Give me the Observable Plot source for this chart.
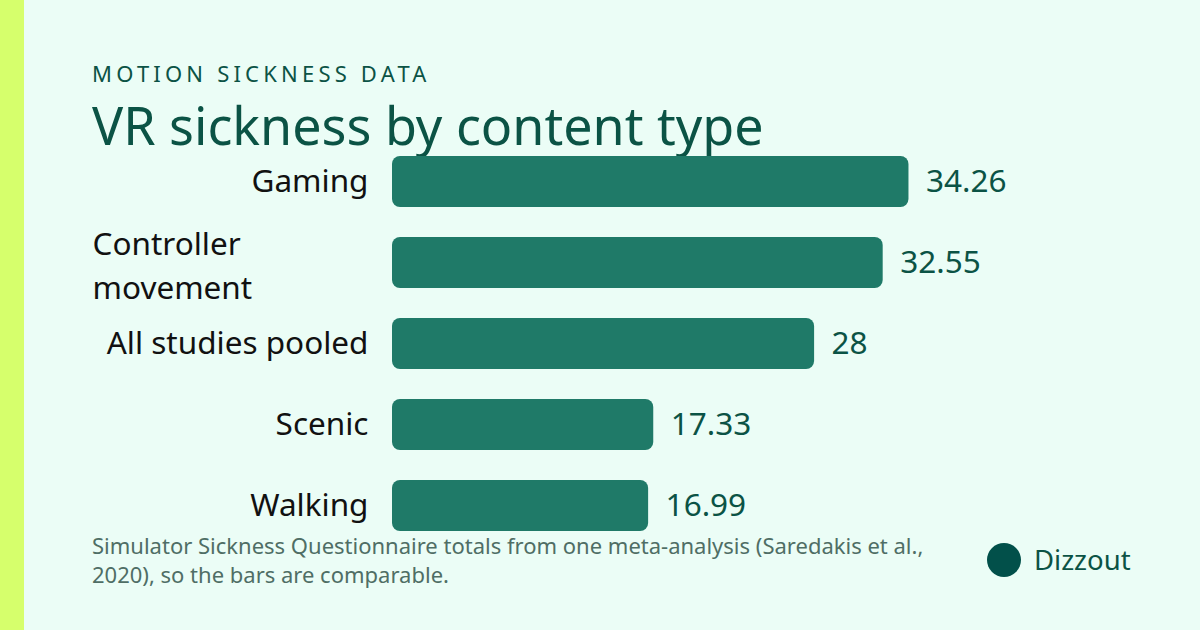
<!DOCTYPE html>
<html>
<head>
<meta charset="utf-8">
<script src="https://cdn.jsdelivr.net/npm/d3@7"></script>
<script src="https://cdn.jsdelivr.net/npm/@observablehq/plot@0.6"></script>
<style>
  html, body { margin: 0; padding: 0; }
  body { width: 1200px; height: 630px; background: #ebfdf6; position: relative; overflow: hidden; font-family: "Noto Sans", sans-serif; }
  #stripe { position: absolute; left: 0; top: 0; width: 24px; height: 630px; background: #d6ff6c; }
  #eyebrow { position: absolute; left: 92px; top: 62px; font-size: 22px; line-height: 22px; letter-spacing: 4.2px; color: #0b5345; white-space: nowrap; }
  #title { position: absolute; left: 92px; top: 99px; font-size: 52px; line-height: 52px; color: #0b5345; white-space: nowrap; }
  #chart { position: absolute; left: 0; top: 119px; }
  #chart svg { display: block; }
  #caption { position: absolute; left: 92px; top: 531px; width: 860px; font-size: 22px; line-height: 29px; color: #4f6e65; }
  #legend { position: absolute; left: 987px; top: 543px; display: flex; align-items: center; gap: 13px; font-size: 27.5px; line-height: 34px; color: #0b5345; }
  #legend .sw { width: 34px; height: 34px; border-radius: 50%; background: #02504a; }
</style>
</head>
<body>
<div id="stripe"></div>
<div id="eyebrow">MOTION SICKNESS DATA</div>
<div id="title">VR sickness by content type</div>
<div id="chart"></div>
<div id="caption">Simulator Sickness Questionnaire totals from one meta-analysis (Saredakis et al., 2020), so the bars are comparable.</div>
<div id="legend"><div class="sw"></div><span>Dizzout</span></div>
<script>
const categories = ["Gaming", "Controller movement", "All studies pooled", "Scenic", "Walking"];
const displayLabels = ["Gaming", "Controller\nmovement", "All studies pooled", "Scenic", "Walking"];
const values = [34.26, 32.55, 28, 17.33, 16.99];
const valueLabels = ["34.26", "32.55", "28", "17.33", "16.99"];

const data = categories.map((c, i) => ({ category: c, label: displayLabels[i], value: values[i], valueLabel: valueLabels[i] }));
const single = data.filter(d => !d.label.includes("\n"));
const wrapped = data.filter(d => d.label.includes("\n"));

const chart = Plot.plot({
  width: 1200,
  height: 444,
  marginLeft: 392,
  marginRight: 205,
  marginTop: 6,
  marginBottom: 0,
  style: { background: "transparent", fontFamily: "Noto Sans, sans-serif", overflow: "visible" },
  x: { domain: [0, 40], axis: null },
  y: { domain: categories, padding: 0.368, axis: null },
  marks: [
    Plot.barX(data, { x: "value", y: "category", fill: "#1f7a68", rx: 8 }),
    Plot.text(data, { x: "value", y: "category", text: "valueLabel", dx: 17, textAnchor: "start", fontSize: 31.5, fill: "#0b5345" }),
    Plot.text(single, { x: 0, y: "category", text: "label", dx: -24, textAnchor: "end", fontSize: 31.5, fill: "#111111" }),
    Plot.text(wrapped, { x: 0, y: "category", text: "label", dx: -300, textAnchor: "start", fontSize: 31.5, lineHeight: 1.4, fill: "#111111" })
  ]
});
document.getElementById("chart").appendChild(chart);
</script>
</body>
</html>
